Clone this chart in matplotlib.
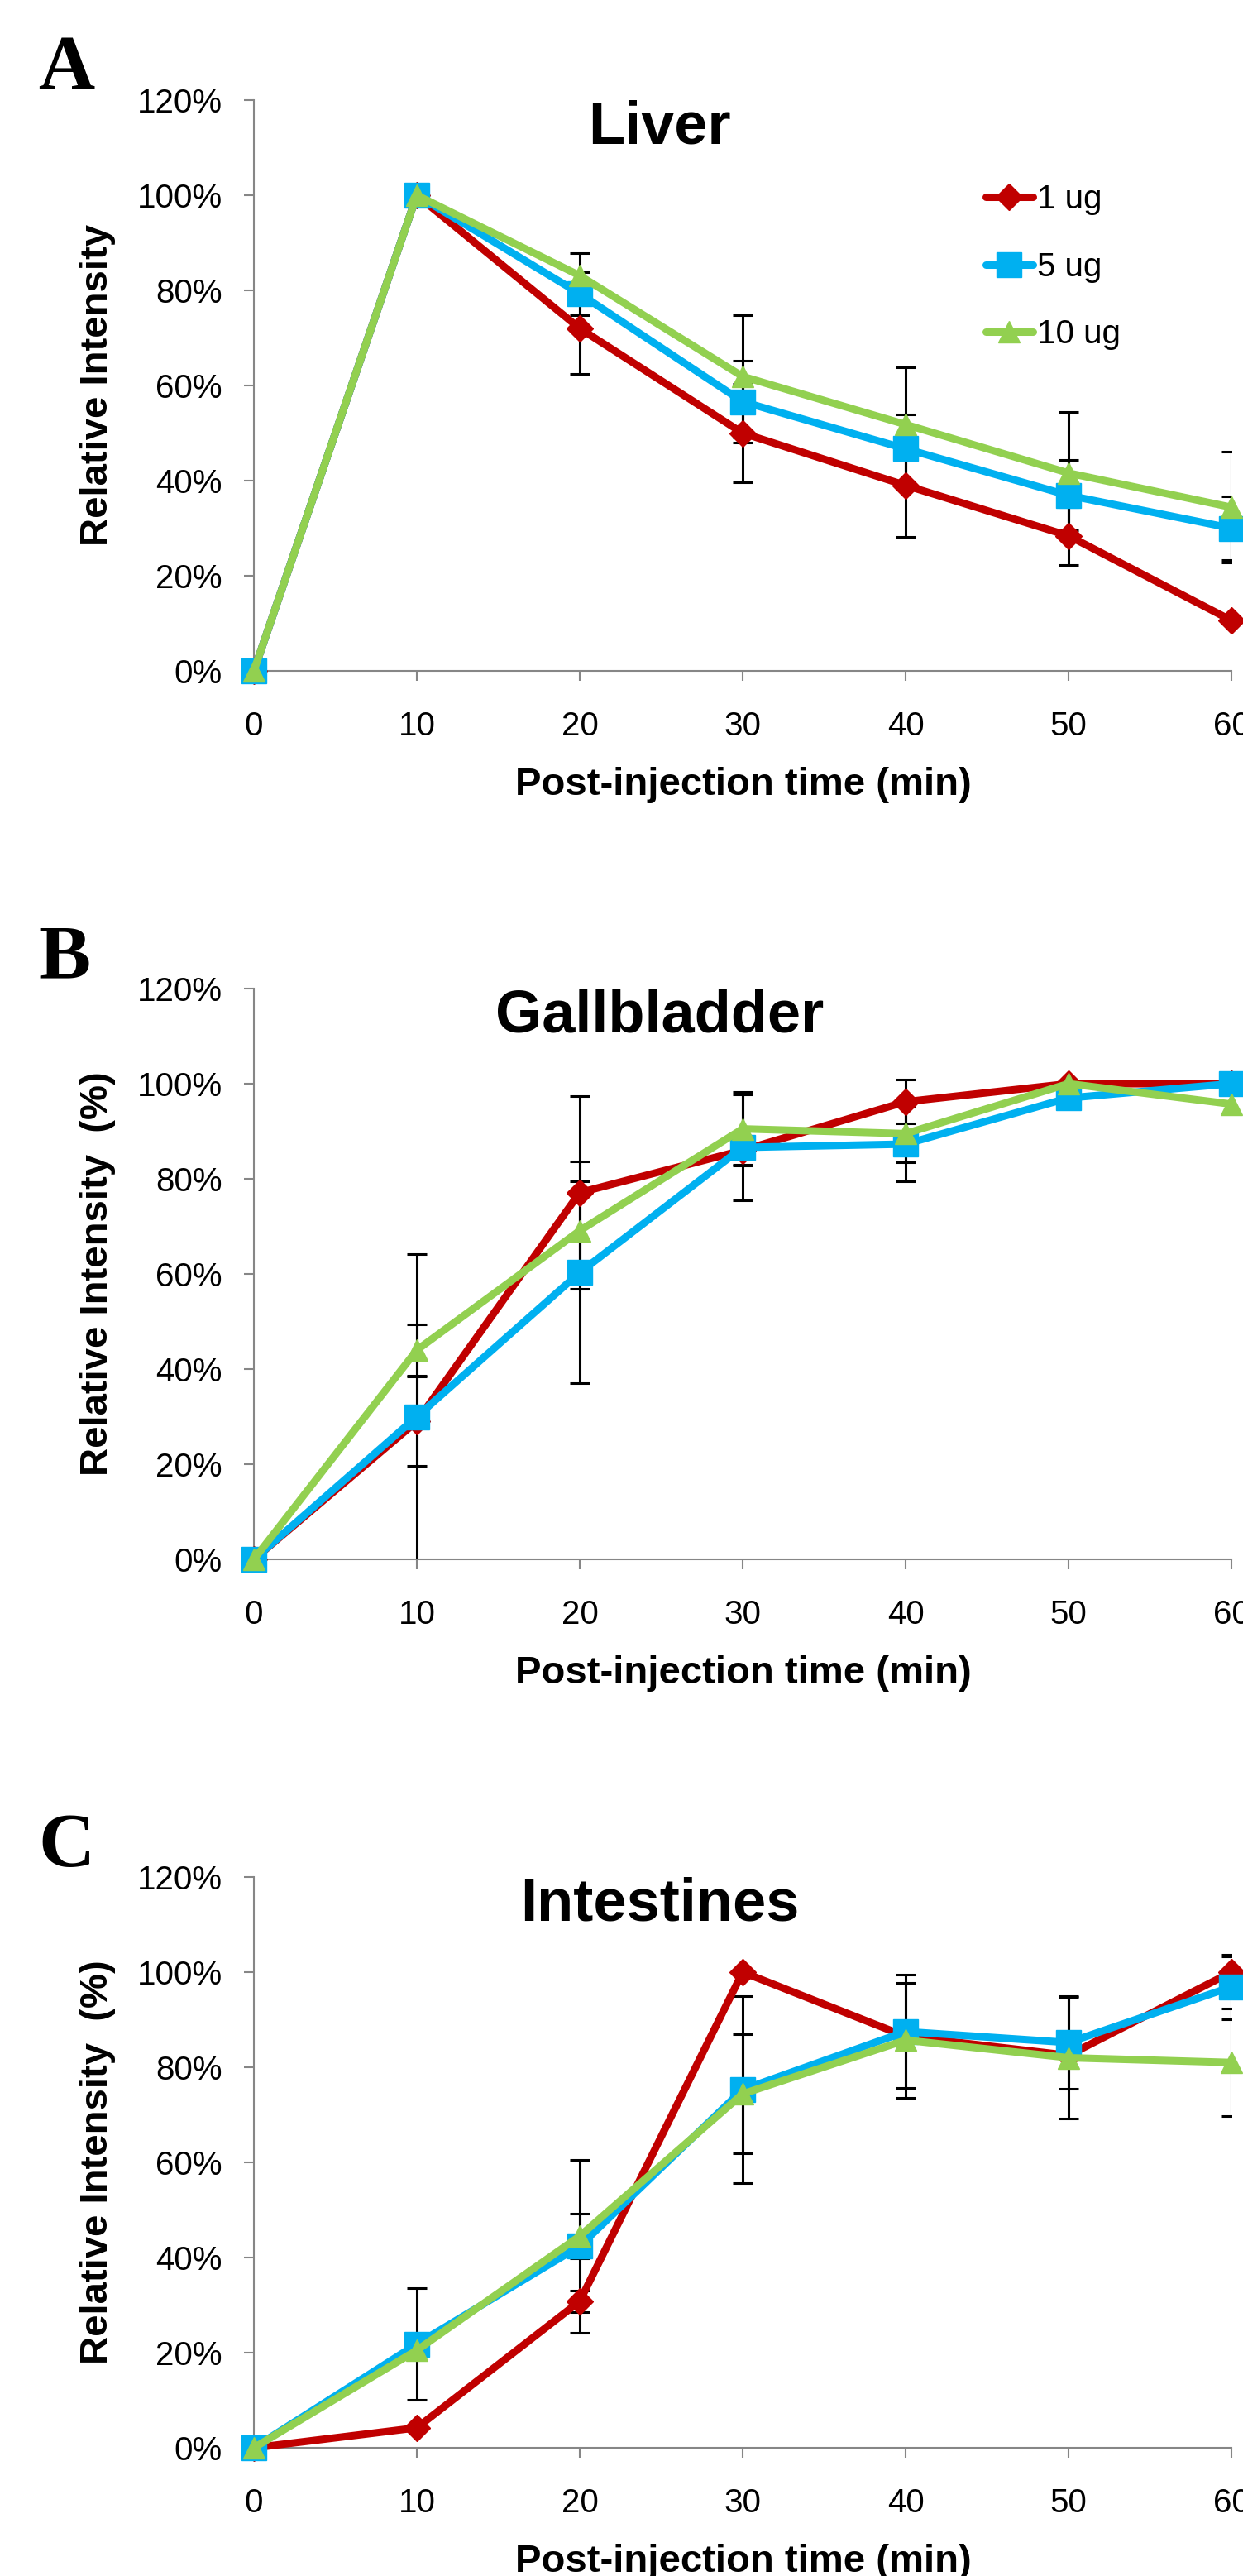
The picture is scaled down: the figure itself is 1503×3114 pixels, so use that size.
"""
Relative intensity vs post-injection time for liver, gallbladder and
intestines (three doses), stacked as panels A, B and C.
"""

import matplotlib
matplotlib.use("Agg")
import matplotlib.pyplot as plt
from matplotlib.ticker import PercentFormatter

plt.rcParams["font.family"] = ["Liberation Sans", "DejaVu Sans"]

# ---- data -------------------------------------------------------------
times = [0, 10, 20, 30, 40, 50, 60]
doses = ["1 ug", "5 ug", "10 ug"]

liver_1 = [0, 1.0, 0.72, 0.50, 0.39, 0.284, 0.106]
liver_5 = [0, 1.0, 0.793, 0.566, 0.467, 0.369, 0.30]
liver_10 = [0, 1.0, 0.831, 0.619, 0.518, 0.416, 0.344]
liver_err_1 = [0, 0, 0.096, 0.103, 0.109, 0.061, 0]
liver_err_5 = [0, 0, 0.045, 0.086, 0.072, 0.074, 0.067]
liver_err_10 = [0, 0, 0.047, 0.128, 0.12, 0.128, 0.117]

gall_1 = [0, 0.29, 0.771, 0.86, 0.962, 1.0, 1.0]
gall_5 = [0, 0.30, 0.603, 0.866, 0.873, 0.97, 1.0]
gall_10 = [0, 0.44, 0.691, 0.905, 0.895, 1.0, 0.957]
gall_err_1 = [0, 0.094, 0.203, 0.03, 0.046, 0, 0]
gall_err_5 = [0, 0.341, 0.233, 0.112, 0.079, 0, 0]
gall_err_10 = [0, 0.054, 0.103, 0.078, 0.06, 0, 0]

int_1 = [0, 0.042, 0.308, 1.0, 0.865, 0.825, 1.0]
int_5 = [0, 0.218, 0.424, 0.753, 0.875, 0.852, 0.969]
int_10 = [0, 0.205, 0.445, 0.744, 0.857, 0.82, 0.81]
int_err_1 = [0, 0, 0.023, 0, 0, 0, 0.033]
int_err_5 = [0, 0.117, 0.182, 0.196, 0.119, 0.097, 0.068]
int_err_10 = [0, 0, 0.047, 0.125, 0.121, 0.127, 0.113]

yticks = [0, 0.2, 0.4, 0.6, 0.8, 1.0, 1.2]

# ---- style ------------------------------------------------------------
colors = ["#C00000", "#00B0F0", "#92D050"]
markers = ["D", "s", "^"]
msizes = [16, 21, 19]
gray = "#868686"

W, H = 1503, 3114
fig = plt.figure(figsize=(W / 100, H / 100), dpi=100)


def draw_panel(top_px, letter, title, series, errors, ylabel, legend=False):
    """Draw one panel; top_px is the pixel row of the 120% gridline."""
    left, right = 307, 1489
    bottom_px = top_px + 690
    ax = fig.add_axes([left / W, 1 - bottom_px / H,
                       (right - left) / W, 690 / H])
    for vals, err in zip(series, errors):
        ax.errorbar(times, vals, yerr=err, fmt="none", ecolor="black",
                    elinewidth=2.2, capsize=8.5, capthick=2.2, zorder=2)
    for i, vals in enumerate(series):
        ax.plot(times, vals, color=colors[i], lw=6.5, marker=markers[i],
                ms=msizes[i], mec=colors[i], mew=1, solid_joinstyle="round",
                solid_capstyle="round", clip_on=False, zorder=3 + i,
                label=doses[i])

    ax.set_xlim(0, 60)
    ax.set_ylim(0, 1.2)
    ax.set_xticks(times)
    ax.set_yticks(yticks)
    ax.yaxis.set_major_formatter(PercentFormatter(1.0, decimals=0))
    for s in ["top", "right"]:
        ax.spines[s].set_visible(False)
    for s in ["left", "bottom"]:
        ax.spines[s].set_color(gray)
        ax.spines[s].set_linewidth(1.5)
    ax.tick_params(axis="both", direction="out", length=8.6, width=1.5,
                   color=gray, labelsize=29)
    ax.tick_params(axis="y", pad=19)
    ax.tick_params(axis="x", pad=26)

    ax.text(24.9, 1.108, title, ha="center", va="baseline",
            fontsize=52, fontweight="bold")

    # panel letter, axis labels
    fig.text(46 / W, 1 - (top_px - 13) / H, letter, ha="left", va="baseline",
             fontsize=68, fontweight="bold", family="Liberation Serif")
    fig.text(899 / W, 1 - (bottom_px + 150) / H, "Post-injection time (min)",
             ha="center", va="baseline", fontsize=34, fontweight="bold")
    fig.text(117.5 / W, 1 - (top_px + 345) / H, ylabel, rotation=90,
             ha="center", va="center", fontsize=34, fontweight="bold")

    if legend:
        ax.legend(loc="upper left", bbox_to_anchor=(0.7487, 0.853),
                  frameon=False, fontsize=29, handlelength=1.41,
                  handletextpad=0.12, labelspacing=1.08, borderpad=0,
                  borderaxespad=0, numpoints=1)
    return ax


draw_panel(121, "A", "Liver", [liver_1, liver_5, liver_10],
           [liver_err_1, liver_err_5, liver_err_10], "Relative Intensity",
           legend=True)
draw_panel(1195, "B", "Gallbladder", [gall_1, gall_5, gall_10],
           [gall_err_1, gall_err_5, gall_err_10], "Relative Intensity  (%)")
draw_panel(2269, "C", "Intestines", [int_1, int_5, int_10],
           [int_err_1, int_err_5, int_err_10], "Relative Intensity  (%)")

fig.savefig("out.png", dpi=100)
